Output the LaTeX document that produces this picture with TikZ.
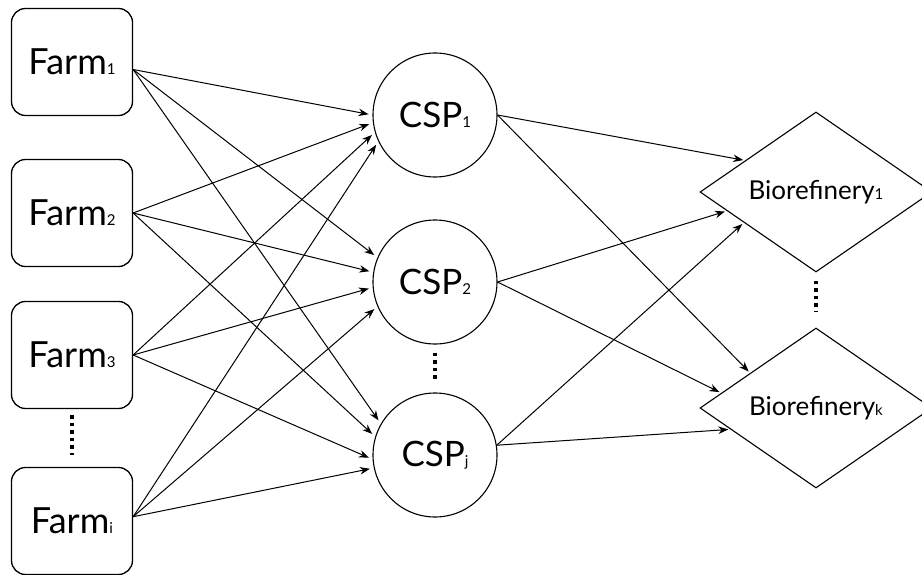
\documentclass[tikz,border=0pt]{standalone}
\usepackage{fontspec}
\setmainfont{Lato}
\usepackage{tikz}
\usetikzlibrary{arrows.meta}
\usetikzlibrary{shapes.geometric}
\newcommand\idx[1]{{\fontsize{15}{15}\selectfont #1}}
\tikzstyle{farm}=[draw,line width=1.3pt,rounded corners=14pt,minimum width=121pt,minimum height=107pt,inner sep=0pt,font=\fontsize{36}{36}\selectfont]
\tikzstyle{csp} =[draw,circle,line width=1.1pt,minimum size=124pt,inner sep=0pt,font=\fontsize{35}{35}\selectfont]
\tikzstyle{bio} =[draw,diamond,line width=1.1pt,minimum width=232pt,minimum height=160pt,inner sep=0pt,font=\fontsize{26}{26}\selectfont]
\tikzstyle{flow}=[line width=1pt,-{Stealth[length=10pt,width=7.5pt]},shorten >=4pt]
\tikzstyle{vdots}=[line width=3.5pt,dash pattern=on 3.5pt off 4pt]
\begin{document}
\begin{tikzpicture}[x=1pt,y=-1pt]
	\useasboundingbox (0,0) rectangle (922,575);
	\node[farm] (farm1) at (72,62)  {Farm\idx{1}};
	\node[farm] (farm2) at (72,213) {Farm\idx{2}};
	\node[farm] (farm3) at (72,355) {Farm\idx{3}};
	\node[farm] (farmi) at (72,521) {Farm\idx{i}};
	\node[csp] (csp1) at (435,115) {CSP\idx{1}};
	\node[csp] (csp2) at (435,282) {CSP\idx{2}};
	\node[csp] (cspj) at (435,455) {CSP\idx{j}};
	\node[bio] (bio1) at (816,192) {Biorefinery\idx{1}};
	\node[bio] (biok) at (816,408) {Biorefinery\idx{k}};
	% farm exits
	\coordinate (out1) at (farm1.-7);
	\coordinate (out2) at (farm2.east);
	\coordinate (out3) at (farm3.east);
	\coordinate (outi) at (farmi.4);
	% farms to CSPs
	\foreach \f/\c/\a in {1/1/180,2/1/187,3/1/196,i/1/205,
	                      1/2/157,2/2/171,3/2/185,i/2/203,
	                      1/j/150,2/j/163,3/j/184,i/j/192}
	    \draw[flow] (out\f) -- (csp\c.\a);
	% CSPs to biorefineries
	\foreach \c/\s/\b/\a in {1/0/1/156,1/0/k/152,
	                         2/0/1/192,2/0/k/171,
	                         j/9/1/203,j/9/k/194}
	    \draw[flow,shorten >=2pt] (csp\c.\s) -- (bio\b.\a);
	% dots
	\draw[vdots,shorten <=6pt,shorten >=12pt] (farm3.south) -- (farmi.north);
	\draw[vdots,shorten <=8pt,shorten >=10pt] (csp2.south) -- (cspj.north);
	\draw[vdots,shorten <=8pt,shorten >=15pt] (bio1.south) -- (biok.north);
\end{tikzpicture}
\end{document}
